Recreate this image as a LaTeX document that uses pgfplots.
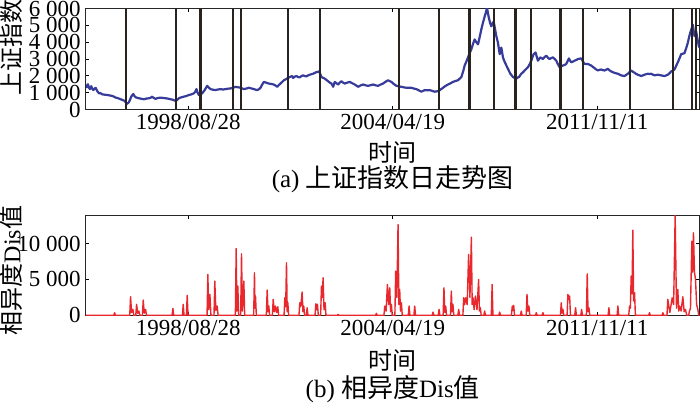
\documentclass[border=0pt]{standalone}
\usepackage{fontspec}
\setmainfont{Liberation Serif}
\newfontfamily\cjk{Noto Sans CJK SC}
\usepackage{pgfplots}
\pgfplotsset{compat=1.18}
\definecolor{blueline}{RGB}{55,60,155}
\definecolor{redline}{RGB}{232,40,45}
\definecolor{cutline}{RGB}{40,35,30}

\pgfplotstableread{
x y
0 1300
7 1350
14 1480
20 1500
28 1300
39 1215
46 1330
52 1390
60 1250
72 1157
83 1240
95 1290
110 1100
127 962
140 980
160 904
185 880
209 865
230 840
258 807
275 760
290 710
310 680
339 613
360 560
378 515
390 420
397 330
410 380
420 437
432 600
443 768
452 850
463 924
472 820
485 729
500 700
518 671
540 640
567 613
590 650
616 671
632 700
648 768
660 700
680 632
700 680
729 710
750 690
778 671
800 650
827 613
850 580
876 515
890 560
909 671
930 720
958 768
980 800
1007 865
1030 900
1055 962
1068 1050
1081 1215
1092 1000
1104 865
1120 920
1137 962
1160 1150
1175 1300
1186 1409
1198 1320
1218 1215
1240 1180
1267 1157
1290 1190
1316 1215
1340 1190
1365 1215
1390 1240
1414 1254
1440 1300
1463 1351
1490 1320
1512 1293
1530 1250
1544 1215
1570 1250
1593 1293
1620 1250
1642 1215
1660 1180
1674 1157
1690 1200
1707 1293
1720 1450
1739 1643
1760 1600
1788 1545
1810 1520
1837 1487
1855 1420
1870 1350
1885 1450
1902 1545
1920 1650
1935 1740
1955 1800
1974 1876
1995 1934
2016 1992
2026 1876
2040 1950
2059 1992
2075 1930
2091 1914
2110 2000
2124 2031
2140 1990
2156 1973
2175 2040
2189 2070
2205 2100
2221 2128
2238 2180
2254 2225
2268 2240
2280 2264
2292 2100
2303 1934
2320 1880
2336 1837
2352 1760
2368 1681
2385 1600
2401 1545
2410 1450
2417 1351
2425 1500
2433 1642
2450 1560
2466 1487
2482 1600
2498 1681
2515 1600
2531 1545
2555 1600
2580 1642
2605 1560
2629 1487
2645 1420
2661 1351
2685 1430
2710 1487
2735 1440
2759 1409
2785 1450
2808 1487
2832 1440
2857 1409
2880 1480
2905 1545
2930 1650
2954 1740
2970 1690
2987 1642
3010 1520
3036 1409
3060 1380
3085 1351
3110 1320
3133 1293
3160 1300
3182 1293
3205 1250
3231 1215
3255 1140
3280 1060
3296 1110
3313 1157
3340 1140
3361 1157
3385 1110
3410 1060
3430 1080
3449 1099
3470 1200
3492 1293
3515 1400
3540 1487
3565 1560
3589 1642
3615 1700
3638 1740
3655 1840
3671 1934
3688 2250
3703 2614
3720 2850
3736 3100
3752 3350
3769 3586
3785 3900
3801 4168
3818 4000
3834 3877
3850 4300
3866 4751
3882 5150
3899 5529
3912 5800
3922 6050
3932 5700
3941 5431
3952 5150
3964 4946
3975 5100
3987 5237
4000 4800
4013 4363
4029 3974
4046 3294
4062 3683
4078 3100
4090 2900
4104 2711
4127 2420
4150 2128
4176 1934
4192 1880
4209 1837
4222 1900
4235 1934
4257 2128
4275 2220
4290 2322
4322 2517
4340 2700
4355 2905
4366 3100
4378 3294
4397 3391
4408 3150
4420 2905
4443 3100
4469 3003
4485 3120
4502 3197
4518 3080
4534 3003
4550 3060
4567 3100
4585 3000
4599 2905
4615 2700
4632 2517
4650 2580
4665 2614
4680 2650
4697 2711
4712 2900
4723 3042
4735 2900
4746 2808
4765 2860
4779 2905
4795 2950
4811 3003
4828 3020
4844 3042
4860 2850
4876 2711
4909 2711
4925 2660
4941 2614
4958 2530
4974 2459
4990 2380
5006 2322
5022 2360
5039 2381
5055 2340
5072 2322
5088 2370
5104 2420
5120 2330
5137 2264
5152 2220
5169 2186
5185 2150
5202 2128
5218 2080
5234 2031
5250 2010
5267 1992
5283 2060
5300 2128
5316 2230
5332 2322
5348 2250
5365 2186
5380 2120
5397 2070
5414 2030
5430 1992
5446 2030
5462 2070
5478 2100
5495 2128
5511 2110
5527 2128
5543 2080
5560 2031
5576 2050
5593 2070
5609 2050
5625 2031
5641 2010
5658 1992
5674 2030
5690 2070
5706 2150
5723 2264
5740 2320
5756 2381
5772 2600
5788 2808
5805 3050
5821 3294
5837 3320
5853 3352
5870 3650
5886 3974
5898 4300
5909 4557
5922 4800
5935 5043
5943 4700
5951 4363
5959 4500
5967 4654
5980 4200
5993 3780
6000 3700
}\indextable

\pgfplotstableread{
x y
0 0
272 0
280 370
288 0
428 0
436 2590
446 400
459 830
468 0
487 0
495 1530
506 300
518 600
526 0
552 0
560 2130
570 300
583 830
592 0
842 0
850 970
858 0
943 0
951 1530
959 0
982 0
990 2780
998 0
1184 0
1192 5700
1200 800
1212 2900
1222 0
1252 0
1260 4770
1270 700
1283 1300
1292 0
1461 0
1469 9300
1476 600
1485 4070
1494 0
1513 0
1521 8570
1530 600
1544 4770
1552 0
1640 0
1648 5930
1653 1000
1658 2690
1666 0
1764 0
1772 3520
1780 500
1788 1300
1796 0
1823 0
1831 2220
1842 500
1853 1300
1864 400
1876 1200
1884 0
1937 0
1945 2450
1953 1200
1961 7310
1968 500
1974 1760
1982 0
2083 0
2091 1760
2100 1200
2114 3240
2122 500
2130 1300
2138 0
2155 0
2163 1060
2171 0
2240 0
2248 1620
2256 800
2264 1530
2272 0
2295 0
2303 4070
2310 2500
2319 5230
2328 800
2339 1760
2347 0
2458 0
2466 140
2474 0
2832 0
2840 280
2848 0
2914 0
2922 1300
2935 600
2948 4300
2960 1500
2971 3840
2979 500
2987 1530
2995 0
3021 0
3029 6160
3040 2500
3052 12640
3060 1500
3068 3610
3076 600
3085 1760
3093 0
3152 0
3160 1300
3168 0
3207 0
3215 1300
3223 0
3386 0
3394 460
3402 0
3445 0
3453 830
3461 0
3493 0
3501 3840
3509 400
3518 1300
3526 0
3565 0
3573 3380
3581 500
3589 1530
3597 0
3637 0
3645 830
3653 0
3686 0
3694 2450
3703 1500
3713 2450
3728 1500
3742 8470
3755 2500
3769 10880
3777 1500
3785 2450
3796 800
3808 2690
3824 800
3840 5000
3848 600
3857 1060
3865 0
3891 0
3899 600
3907 0
3964 0
3972 4300
3980 0
4038 0
4046 460
4054 0
4161 0
4169 1300
4176 700
4183 1390
4191 0
4249 0
4257 600
4265 0
4305 0
4313 2920
4322 600
4332 1300
4340 0
4396 0
4404 370
4412 0
4461 0
4469 370
4477 0
4640 0
4648 1760
4656 300
4665 830
4673 0
4705 0
4713 2920
4722 2200
4730 2690
4738 0
4780 0
4788 1060
4796 0
4839 0
4847 830
4855 0
4894 0
4902 5790
4910 500
4919 1060
4927 0
5106 0
5114 1060
5122 0
5194 0
5202 1300
5210 0
5308 0
5316 1300
5324 1000
5332 5460
5340 3000
5348 11850
5356 2000
5365 3150
5373 0
5503 0
5511 370
5519 0
5634 0
5642 370
5650 0
5682 0
5690 2220
5710 400
5733 2450
5747 1500
5762 13900
5775 1000
5788 3610
5797 600
5805 1300
5820 600
5837 2590
5850 500
5863 830
5875 0
5894 0
5902 600
5912 1000
5925 10320
5932 6000
5941 11480
5951 6000
5961 5000
5972 1500
5984 830
5992 0
6000 0
}\distable

\pgfplotstableread{
x y
394 6000
882 6000
1121 6000
1436 6000
1518 6000
1974 6000
2287 6000
3062 6000
3450 6000
3752 6000
3990 6000
4199 6000
4352 6000
4642 6000
4860 6000
5323 6000
5739 6000
5927 6000
5966 6000
}\cuts

\begin{document}
\begin{tikzpicture}[font=\fontsize{11.5}{13}\selectfont]
\pgfplotsset{
  panel/.style={
    scale only axis, width=307pt,
    xmin=0, xmax=6000,
    xtick={1000,3000,5000},
    xticklabels={1998/08/28,2004/04/19,2011/11/11},
    tick align=inside, major tick length=1.6pt,
    tick style={black, line width=0.4pt},
    axis line style={line width=0.5pt, black!85},
    scaled y ticks=false,
    /pgf/number format/assume math mode=true,
    /pgf/number format/1000 sep={\ },
    yticklabel style={inner xsep=2.5pt, inner ysep=0pt},
    xticklabel style={inner ysep=2pt},
    ylabel style={font=\fontsize{12}{13}\selectfont, anchor=center, inner sep=0pt},
    xlabel style={font=\fontsize{12}{13}\selectfont, anchor=center},
  }
}
\begin{axis}[panel, name=top,
  at={(43pt,103pt)}, anchor=south west, height=50.5pt,
  ymin=0, ymax=6000, ytick={0,1000,...,6000},
  ylabel={\cjk 上证指数},
  ylabel style={at={(rel axis cs:-0.121,0.61)}},
  xlabel={\cjk 时间},
  xlabel style={at={(rel axis cs:0.5,0)}, yshift=-21.5pt},
]
\addplot[blueline, line width=1.1pt, line join=round] table {\indextable};
\addplot[ycomb, cutline, line width=1.2pt, mark=none] table {\cuts};
\end{axis}

\begin{axis}[panel, name=bot,
  at={(43pt,0pt)}, anchor=south west, height=50pt,
  ymin=0, ymax=13900, ytick={0,5000,10000},
  ylabel={{\cjk 相异度}Dis{\cjk 值}},
  ylabel style={at={(rel axis cs:-0.122,0.45)}},
  xlabel={\cjk 时间},
  xlabel style={at={(rel axis cs:0.5,0)}, yshift=-22.5pt},
]
\addplot[redline, line width=0.7pt, line join=round] table {\distable};
\end{axis}

\path (top.south) ++(0,-35pt) node[font=\fontsize{12.5}{14}\selectfont] {(a) {\cjk\fontsize{13}{14}\selectfont 上证指数日走势图}};
\path (bot.south) ++(0,-37pt) node[font=\fontsize{12.5}{14}\selectfont] {(b) {\cjk\fontsize{13}{14}\selectfont 相异度}Dis{\cjk\fontsize{13}{14}\selectfont 值}};
\end{tikzpicture}
\end{document}
